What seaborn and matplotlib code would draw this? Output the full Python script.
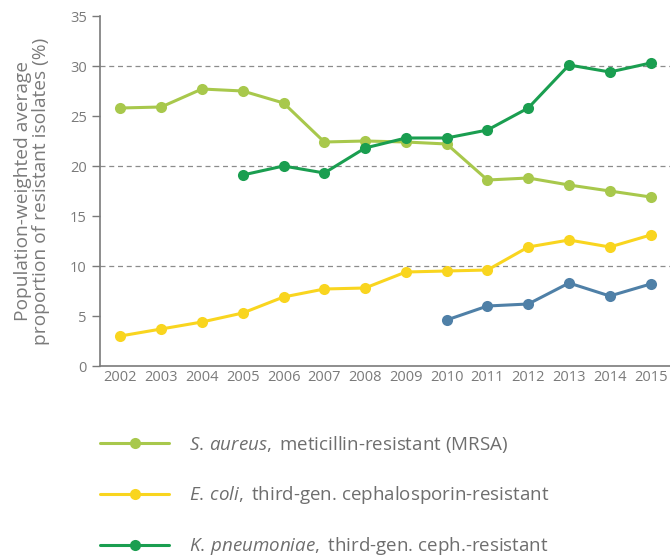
import numpy as np
import pandas as pd
import seaborn as sns
import matplotlib.pyplot as plt
from matplotlib.lines import Line2D

# values
years = list(range(2002, 2016))
mrsa = [25.8, 25.9, 27.7, 27.5, 26.3, 22.4, 22.5, 22.4, 22.2, 18.6, 18.8, 18.1, 17.5, 16.9]
ecoli = [3.0, 3.7, 4.4, 5.3, 6.9, 7.7, 7.8, 9.4, 9.5, 9.6, 11.9, 12.6, 11.9, 13.1]
kpn_years = list(range(2005, 2016))
kpn = [19.1, 20.0, 19.3, 21.8, 22.8, 22.8, 23.6, 25.8, 30.1, 29.4, 30.3]
blue_years = list(range(2010, 2016))
blue = [4.6, 6.0, 6.2, 8.3, 7.0, 8.2]

labels = [
    r"$\it{S.\,aureus,}$ meticillin-resistant (MRSA)",
    r"$\it{E.\,coli,}$ third-gen. cephalosporin-resistant",
    r"$\it{K.\,pneumoniae,}$ third-gen. ceph.-resistant",
]
colors = ["#a8c84c", "#f9d51f", "#1a9e50", "#4f80a7"]
keys = ["mrsa", "ecoli", "kpn", "blue"]

df = pd.concat([
    pd.DataFrame({"year": years, "value": mrsa, "series": "mrsa"}),
    pd.DataFrame({"year": years, "value": ecoli, "series": "ecoli"}),
    pd.DataFrame({"year": kpn_years, "value": kpn, "series": "kpn"}),
    pd.DataFrame({"year": blue_years, "value": blue, "series": "blue"}),
])

sns.set_style("white")
plt.rcParams["font.family"] = ["Open Sans", "DejaVu Sans"]
plt.rcParams["mathtext.fontset"] = "custom"
plt.rcParams["mathtext.it"] = "Open Sans:italic"
plt.rcParams["mathtext.rm"] = "Open Sans"

grey = "#7a7a7a"
fig = plt.figure(figsize=(6.7, 5.58), dpi=100)
ax = fig.add_axes([100 / 670, 192 / 558, 571 / 670, 350 / 558])

for y in (10, 20, 30):
    ax.axhline(y, color="#8c8c8c", lw=0.9, ls=(0, (4, 3)), zorder=0)

sns.lineplot(data=df, x="year", y="value", hue="series", hue_order=keys,
             palette=dict(zip(keys, colors)), marker="o", markersize=8,
             markeredgewidth=0, linewidth=2.2, legend=False, ax=ax)

ax.set_xlim(2001.5, 2015.5)
ax.set_ylim(0, 35)
ax.set_yticks(np.arange(0, 36, 5))
ax.set_xticks(years)
ax.set_xticklabels([str(y) for y in years])
ax.set_xticks(np.arange(2002.5, 2015, 1), minor=True)
ax.tick_params(axis="x", which="major", length=0, pad=3, labelsize=10.5, labelcolor=grey)
ax.tick_params(axis="x", which="minor", length=7, width=1, color=grey, direction="out")
ax.tick_params(axis="y", length=6, width=1, color=grey, labelsize=10.5, labelcolor=grey,
               direction="out", left=True)
ax.set_xlabel("")
ax.set_ylabel("Population-weighted average\nproportion of resistant isolates (%)",
              fontsize=13.8, color=grey, labelpad=14, linespacing=1.05)
sns.despine(ax=ax)
for side in ("left", "bottom"):
    ax.spines[side].set_color(grey)
    ax.spines[side].set_linewidth(1.2)

handles = [Line2D([], [], color=c, lw=2.2, marker="o", markersize=8, markeredgewidth=0)
           for c in colors[:3]]
fig.legend(handles, labels, loc="upper left", bbox_to_anchor=(100 / 670, 1 - 434 / 558),
           frameon=False, fontsize=13.5, labelcolor="#6e6e6e", handlelength=3.7,
           handletextpad=1.05, labelspacing=1.55, borderaxespad=0, borderpad=0)

fig.savefig("out.png", dpi=100)
